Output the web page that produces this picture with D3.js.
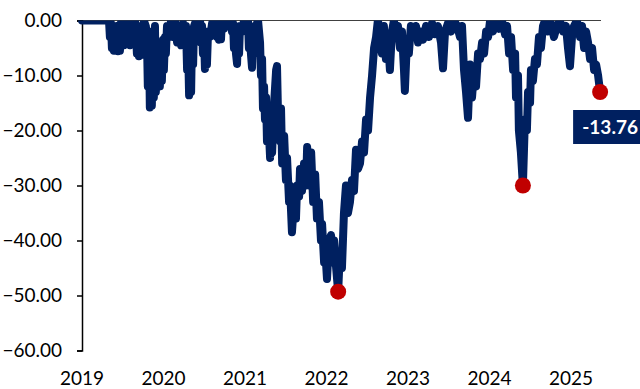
<!DOCTYPE html>
<html>
<head>
<meta charset="utf-8">
<script src="https://cdn.jsdelivr.net/npm/d3@7"></script>
<style>
  body { margin: 0; background: #fff; }
  svg { display: block; }
  text { font-family: Lato, "Liberation Sans", sans-serif; }
</style>
</head>
<body>
<div id="chart"></div>
<script>
// drawdown series (%)
const dates = [
  // 2019
  "2019-01-01","2019-05-02","2019-05-06","2019-05-11","2019-05-15","2019-05-19","2019-05-24","2019-05-28",
  "2019-06-02","2019-06-06","2019-06-11","2019-06-15","2019-06-20","2019-06-24","2019-06-29","2019-07-03",
  "2019-07-08","2019-07-12","2019-07-21","2019-07-26","2019-08-04","2019-08-08","2019-08-17","2019-08-26",
  "2019-08-31","2019-09-04","2019-09-09","2019-09-13","2019-09-17","2019-09-22","2019-09-26","2019-10-01",
  "2019-10-05","2019-10-14","2019-10-19","2019-10-23","2019-10-28","2019-11-01","2019-11-06","2019-11-10",
  "2019-11-15","2019-11-19","2019-11-24","2019-11-28","2019-12-03","2019-12-07","2019-12-12","2019-12-16",
  "2019-12-21","2019-12-25","2019-12-30",
  // 2020
  "2020-01-03","2020-01-08","2020-01-12","2020-01-17","2020-01-26","2020-02-04","2020-02-13","2020-02-22",
  "2020-03-02","2020-03-11","2020-03-20","2020-03-29","2020-04-07","2020-04-11","2020-04-16","2020-04-20",
  "2020-04-25","2020-04-29","2020-05-04","2020-05-08","2020-05-13","2020-05-17","2020-05-26","2020-06-04",
  "2020-06-13","2020-06-17","2020-06-22","2020-06-26","2020-07-01","2020-07-05","2020-07-10","2020-07-14",
  "2020-07-19","2020-07-28","2020-08-06","2020-08-15","2020-08-24","2020-08-28","2020-09-02","2020-09-06",
  "2020-09-11","2020-09-15","2020-09-19","2020-09-28","2020-10-07","2020-10-16","2020-10-25","2020-11-03",
  "2020-11-08","2020-11-12","2020-11-17","2020-11-21","2020-11-26","2020-11-30","2020-12-05","2020-12-09",
  "2020-12-18","2020-12-27",
  // 2021
  "2021-01-05","2021-01-14","2021-01-18","2021-01-23","2021-01-27","2021-02-01","2021-02-05","2021-02-10",
  "2021-02-14","2021-02-19","2021-02-23","2021-02-28","2021-03-09","2021-03-13","2021-03-18","2021-03-22",
  "2021-03-27","2021-03-31","2021-04-05","2021-04-09","2021-04-14","2021-04-23","2021-04-27","2021-05-02",
  "2021-05-11","2021-05-20","2021-05-24","2021-05-29","2021-06-07","2021-06-11","2021-06-16","2021-06-25",
  "2021-07-03","2021-07-08","2021-07-17","2021-07-21","2021-07-30","2021-08-08","2021-08-17","2021-08-22",
  "2021-08-31","2021-09-04","2021-09-13","2021-09-22","2021-10-01","2021-10-06","2021-10-15","2021-10-24",
  "2021-11-02","2021-11-11","2021-11-19","2021-11-28","2021-12-07","2021-12-12","2021-12-21","2021-12-25",
  // 2022
  "2022-01-03","2022-01-12","2022-01-21","2022-01-30","2022-02-04","2022-02-13","2022-02-22","2022-03-02",
  "2022-03-11","2022-03-20","2022-03-29","2022-04-07","2022-04-16","2022-04-25","2022-05-04","2022-05-13",
  "2022-05-22","2022-05-31","2022-06-09","2022-06-18","2022-06-27","2022-07-06","2022-07-15","2022-07-24",
  "2022-08-02","2022-08-11","2022-08-19","2022-08-28","2022-09-06","2022-09-15","2022-09-24","2022-10-03",
  "2022-10-12","2022-10-21","2022-10-30","2022-11-08","2022-11-17","2022-11-26","2022-12-05","2022-12-14",
  "2022-12-18","2022-12-27",
  // 2023
  "2023-01-05","2023-01-14","2023-01-28","2023-02-06","2023-02-15","2023-02-24","2023-03-09","2023-03-23",
  "2023-04-05","2023-04-19","2023-05-02","2023-05-15","2023-05-29","2023-06-07","2023-06-16","2023-06-29",
  "2023-07-13","2023-07-26","2023-08-09","2023-08-22","2023-08-31","2023-09-09","2023-09-18","2023-09-27",
  "2023-10-06","2023-10-15","2023-10-24","2023-11-02","2023-11-11","2023-11-20","2023-11-29","2023-12-08",
  "2023-12-17","2023-12-26",
  // 2024
  "2024-01-04","2024-01-17","2024-01-30","2024-02-13","2024-02-26","2024-03-11","2024-03-20","2024-03-29",
  "2024-04-07","2024-04-16","2024-04-25","2024-04-29","2024-05-08","2024-05-12","2024-05-21","2024-05-30",
  "2024-06-08","2024-06-17","2024-06-22","2024-07-01","2024-07-05","2024-07-14","2024-07-23","2024-08-01",
  "2024-08-10","2024-08-19","2024-08-28","2024-09-06","2024-09-19","2024-10-03","2024-10-16","2024-10-30",
  "2024-11-12","2024-11-26","2024-12-09","2024-12-18","2024-12-27",
  // 2025
  "2025-01-05","2025-01-14","2025-01-27","2025-02-10","2025-02-19","2025-02-28","2025-03-09","2025-03-18",
  "2025-03-27","2025-04-05","2025-04-14","2025-04-23","2025-05-02","2025-05-11"
];
const drawdown = [
  // 2019
  0, 0, -3, -0.5, -5, -1.5, -5.5, -2,
  -5.3, -1, -5.6, -3, -5.5, -0.5, -3, 0,
  -4.5, -1, -4.2, -0.5, -4.5, -1.5, -3.5, 0,
  -2, -6, -1, -6.5, -2.5, -6.3, -1, -4,
  0, -1, -3, -12, -2, -15.8, -8, -15.5,
  -5, -14, -1, -13, -4, -12, -5, -12,
  -4, -11, -3.5,
  // 2020
  -9, -3, -6, -1, -3, 0, -3, 0,
  -4, -1, -4.5, -0.5, -3, -1, -9, -4,
  -13.6, -7, -13, -3, -8, -1, 0, -1.5,
  0, -4, -1, -6, -3, -8.8, -4, -8,
  -2, -3, -0.5, -2.5, 0, -3, -0.5, -3.5,
  -1, -3.4, 0, -1.5, 0, -1, 0, -2,
  -0.5, -5, -1, -6, -7.9, -2, -6, -1,
  -2, 0,
  // 2021
  -2, 0, -5, -1, -6, -8.6, -2, -6,
  -1, -4, -0.5, 0, -4, -10, -7, -16,
  -12, -18, -14, -22, -17, -25, -19, -24,
  -15, -9, -8.3, -18, -22, -16, -26, -21,
  -29, -25, -33, -30, -38.5, -33, -36, -30,
  -32, -27, -31, -26, -30, -23, -30, -24,
  -33, -28, -36, -33, -40, -37, -44, -41,
  // 2022
  -47, -40, -39, -44, -40, -45, -49.3, -42,
  -45, -35, -30, -35, -33, -29, -31, -23.5,
  -27, -26, -22, -24, -18, -20, -14, -10,
  -5, -3, 0, -2, -6, -1, -7, -3,
  -9, -2, 0, -3, -1, -5, -2, -9,
  -12.8, -4,
  // 2023
  -6, -1, -3, -1, -4, -2, -3.5, -1,
  -3, -0.5, -2.5, -1, -4, -8.7, -2, -0.5,
  -2, 0, -1, -3, -1, -9, -13, -17.7,
  -8, -14, -9, -12, -6, -7, -4, -6,
  -2, -3,
  // 2024
  0, -2, 0, -1.5, 0, -2.5, -1, -6,
  -3, -9, -6, -14, -10, -20, -24, -30,
  -18, -20, -13, -15, -9, -11, -7, -8,
  -3, -5, -1, 0, -2, -0.5, -3, -1,
  0, -2, -1, -5, -8.3,
  // 2025
  -3, -1, 0, -3, -1, -5, -2, -4,
  -7, -5, -9, -8, -10, -13
];
const yTicks = [0, -10, -20, -30, -40, -50, -60];
const xYears = ["2019", "2020", "2021", "2022", "2023", "2024", "2025"];
const lastLabel = "-13.76";

const width = 640, height = 389;
const margin = { top: 20.5, right: 39, bottom: 38.5, left: 82 };
const plot_width = width - margin.left - margin.right;
const plot_height = height - margin.top - margin.bottom;

const parse = d3.timeParse("%Y-%m-%d");
const data = dates.map((d, i) => ({ date: parse(d), value: drawdown[i] }));

const svg = d3.select("#chart")
    .append("svg")
    .attr("width", width)
    .attr("height", height);

const g = svg.append("g")
    .attr("transform", "translate(" + margin.left + "," + margin.top + ")");

const x = d3.scaleTime()
    .domain([parse("2019-01-01"), parse("2025-05-15")])
    .range([0, plot_width]);

const y = d3.scaleLinear()
    .domain([-60, 0])
    .range([plot_height, 0]);

// clip at zero so the flat part of the line gets cut like in the original
g.append("clipPath").attr("id", "clip")
    .append("rect")
    .attr("x", -10).attr("y", 0)
    .attr("width", plot_width + 30).attr("height", plot_height + 20);

// horizontal axis line at zero
g.append("line")
    .attr("x1", 0).attr("x2", plot_width)
    .attr("y1", y(0)).attr("y2", y(0))
    .attr("stroke", "#404040")
    .attr("stroke-width", 1.2);

// y axis
const yAxis = g.append("g")
    .call(d3.axisLeft(y).tickValues(yTicks).tickSize(5).tickPadding(15).tickFormat(d3.format(".2f")));
yAxis.select(".domain").attr("stroke", "#000").attr("stroke-width", 1.5);
yAxis.selectAll(".tick line").attr("stroke", "#000").attr("stroke-width", 1.5);
yAxis.selectAll("text")
    .attr("font-size", 19)
    .attr("fill", "#000")
    .style("font-family", "Lato, 'Liberation Sans', sans-serif");

// year labels along the bottom
g.append("g")
    .selectAll("text")
    .data(xYears)
    .enter()
    .append("text")
    .attr("x", d => x(parse(d + "-01-01")))
    .attr("y", plot_height + 34)
    .attr("text-anchor", "middle")
    .attr("font-size", 19)
    .attr("fill", "#000")
    .text(d => d);

// the drawdown line
const line = d3.line()
    .x(d => x(d.date))
    .y(d => y(d.value));

g.append("path")
    .datum(data)
    .attr("clip-path", "url(#clip)")
    .attr("fill", "none")
    .attr("stroke", "#002060")
    .attr("stroke-width", 8)
    .attr("stroke-linejoin", "round")
    .attr("stroke-linecap", "round")
    .attr("d", line);

// red markers: worst point overall, worst in 2024, latest
const worst = d3.least(data, d => d.value);
const worst2024 = d3.least(data.filter(d => d.date.getFullYear() === 2024), d => d.value);
const last = data[data.length - 1];

g.selectAll("marks")
    .data([worst, worst2024, last])
    .enter()
    .append("circle")
    .attr("cx", d => x(d.date))
    .attr("cy", d => y(d.value))
    .attr("r", 8)
    .attr("fill", "#C00000");

// label box for the latest value
const lx = x(last.date) - 27;
const ly = y(last.value) + 18;
g.append("rect")
    .attr("x", lx)
    .attr("y", ly)
    .attr("width", 80)
    .attr("height", 34)
    .attr("fill", "#002060");
g.append("text")
    .attr("x", lx + 37)
    .attr("y", ly + 17)
    .attr("dy", "0.35em")
    .attr("text-anchor", "middle")
    .attr("font-size", 19)
    .attr("font-weight", "bold")
    .attr("fill", "#fff")
    .text(lastLabel);
</script>
</body>
</html>
